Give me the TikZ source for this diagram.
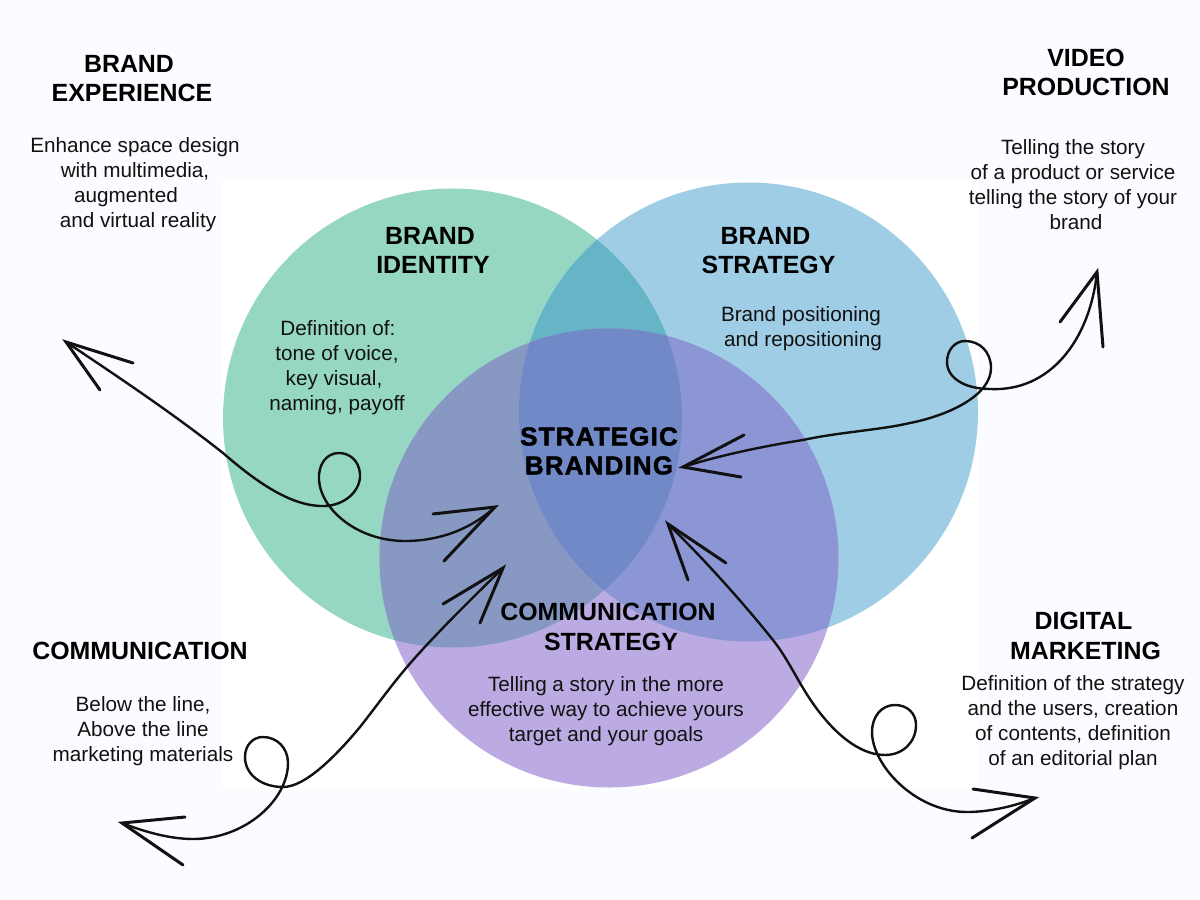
\documentclass[tikz,border=0pt]{standalone}
\usepackage{fontspec}
\setmainfont{Liberation Sans}
\newfontfamily\heavyfont[FakeBold=1.8,LetterSpace=4.5]{Liberation Sans Bold}
\definecolor{pagebg}{HTML}{FBFCFF}
\definecolor{cgreen}{HTML}{96D7C4}
\definecolor{cblue}{HTML}{9FCDE5}
\definecolor{cpurple}{HTML}{BBABE2}
\definecolor{cgb}{HTML}{66B5C7}
\definecolor{cgp}{HTML}{8799C3}
\definecolor{cbp}{HTML}{8C96D5}
\definecolor{cgbp}{HTML}{7289C7}
\definecolor{ink}{HTML}{111111}
\tikzset{
  body/.style={align=center,inner sep=0pt,text=ink,font=\fontsize{20.7}{25}\selectfont},
  head/.style={align=center,inner sep=0pt,text=black,font=\bfseries\fontsize{24.9}{29.5}\selectfont},
  hub/.style={align=center,inner sep=0pt,text=black,font=\heavyfont\fontsize{26}{29}\selectfont},
  swirl/.style={draw=ink,line width=2.4pt,line cap=round,line join=round},
  barb/.style={draw=ink,line width=3pt,line cap=round,line join=miter}
}
\begin{document}
\begin{tikzpicture}[x=1pt,y=-1pt]
\useasboundingbox (0,0) rectangle (1200,900);
\fill[pagebg] (0,0) rectangle (1200,900);
\fill[white] (222,180) rectangle (978,788);
\def\cg{(452.5,418) circle (229.5)}
\def\cb{(748.5,412) circle (229.5)}
\def\cp{(609,558) circle (229.5)}
\fill[cgreen] \cg;
\fill[cblue] \cb;
\fill[cpurple] \cp;
\begin{scope}\clip \cg; \fill[cgb] \cb; \fill[cgp] \cp; \end{scope}
\begin{scope}\clip \cb; \fill[cbp] \cp; \end{scope}
\begin{scope}\clip \cg; \clip \cb; \fill[cgbp] \cp; \end{scope}

\node[head] (t1) at (132,78.5) {\hspace*{-6pt}BRAND\\EXPERIENCE};
\node[body] (b1) at (135,184.5) {Enhance space design\\with multimedia,\\\hspace*{-18pt}augmented\\\hspace*{6pt}and virtual reality};
\node[head] (t2) at (1086,72.5) {VIDEO\\PRODUCTION};
\node[body] (b2) at (1073,184.5) {Telling the story\\of a product or service\\telling the story of your\\\hspace*{6pt}brand};
\node[head] (t3) at (433,250.5) {\hspace*{-6pt}BRAND\\IDENTITY};
\node[body] (b3) at (337,368) {\hspace*{2pt}Definition of:\\tone of voice,\\\hspace*{-6pt}key visual,\\naming, payoff};
\node[head] (t4) at (768.5,250.5) {\hspace*{-6pt}BRAND\\STRATEGY};
\node[body] (b4) at (803,328.5) {\hspace*{-4pt}Brand positioning\\and repositioning};
\node[hub] (core) at (599,451) {STRATEGIC\\BRANDING};
\node[head] (t5) at (608,627) {COMMUNICATION\\\hspace*{6pt}STRATEGY};
\node[body] (b5) at (606,711) {Telling a story in the more\\effective way to achieve yours\\target and your goals};
\node[head] (t6) at (140,651) {COMMUNICATION};
\node[body] (b6) at (143,731) {Below the line,\\Above the line\\marketing materials};
\node[head] (t7) at (1085.5,636) {\hspace*{-4pt}DIGITAL\\MARKETING};
\node[body] (b7) at (1073,723) {Definition of the strategy\\and the users, creation\\of contents, definition\\of an editorial plan};

% arrow tips
\coordinate (a1) at (495,507);
\coordinate (z1) at (66,342);
\coordinate (a2) at (683,467);
\coordinate (z2) at (1097,272);
\coordinate (a3) at (503,568);
\coordinate (z3) at (122,823);
\coordinate (a4) at (668,524);
\coordinate (z4) at (1035,798);

% brand experience arrow
\draw[swirl] (z1) .. controls (120,378) and (175,415) .. (223,453)
  .. controls (262,487) and (295,507) .. (325,506)
  .. controls (346,505) and (361,490) .. (360,474)
  .. controls (359,460) and (349,453) .. (339,453)
  .. controls (326,453) and (318,465) .. (319,480)
  .. controls (321,510) and (358,541) .. (405,541)
  .. controls (438,541) and (470,530) .. (a1);
\draw[barb] (433,514) -- (a1) -- (444,561);
\draw[barb] (133,363) -- (z1) -- (100,390);

% video production arrow
\draw[swirl] (a2) .. controls (720,455) and (770,445) .. (803,440)
  .. controls (840,432) and (880,430) .. (910,423)
  .. controls (950,415) and (991,395) .. (991,368)
  .. controls (991,352) and (980,341) .. (965,341)
  .. controls (955,341) and (947,350) .. (947,362)
  .. controls (947,378) and (965,389) .. (990,389)
  .. controls (1050,392) and (1090,340) .. (z2);
\draw[barb] (744,435) -- (a2) -- (741,477);
\draw[barb] (1060,322) -- (z2) -- (1103,347);

% communication arrow
\draw[swirl] (a3) .. controls (465,605) and (430,640) .. (407,667)
  .. controls (390,687) and (375,708) .. (360,727)
  .. controls (335,757) and (305,787) .. (283,787)
  .. controls (262,787) and (245,775) .. (245,757)
  .. controls (245,745) and (253,737) .. (263,737)
  .. controls (277,737) and (288,748) .. (288,763)
  .. controls (288,800) and (245,839) .. (193,839)
  .. controls (170,839) and (145,832) .. (z3);
\draw[barb] (443,604) -- (a3) -- (480,623);
\draw[barb] (185,817) -- (z3) -- (183,865);

% digital marketing arrow
\draw[swirl] (a4) .. controls (705,560) and (745,605) .. (773,640)
  .. controls (785,655) and (795,675) .. (803,688)
  .. controls (825,725) and (855,755) .. (885,755)
  .. controls (903,755) and (916,742) .. (916,725)
  .. controls (916,713) and (907,705) .. (895,705)
  .. controls (881,705) and (872,717) .. (872,732)
  .. controls (872,765) and (915,812) .. (967,812)
  .. controls (990,812) and (1015,806) .. (z4);
\draw[barb] (726,563) -- (a4) -- (688,580);
\draw[barb] (973,789) -- (z4) -- (972,838);
\end{tikzpicture}
\end{document}
